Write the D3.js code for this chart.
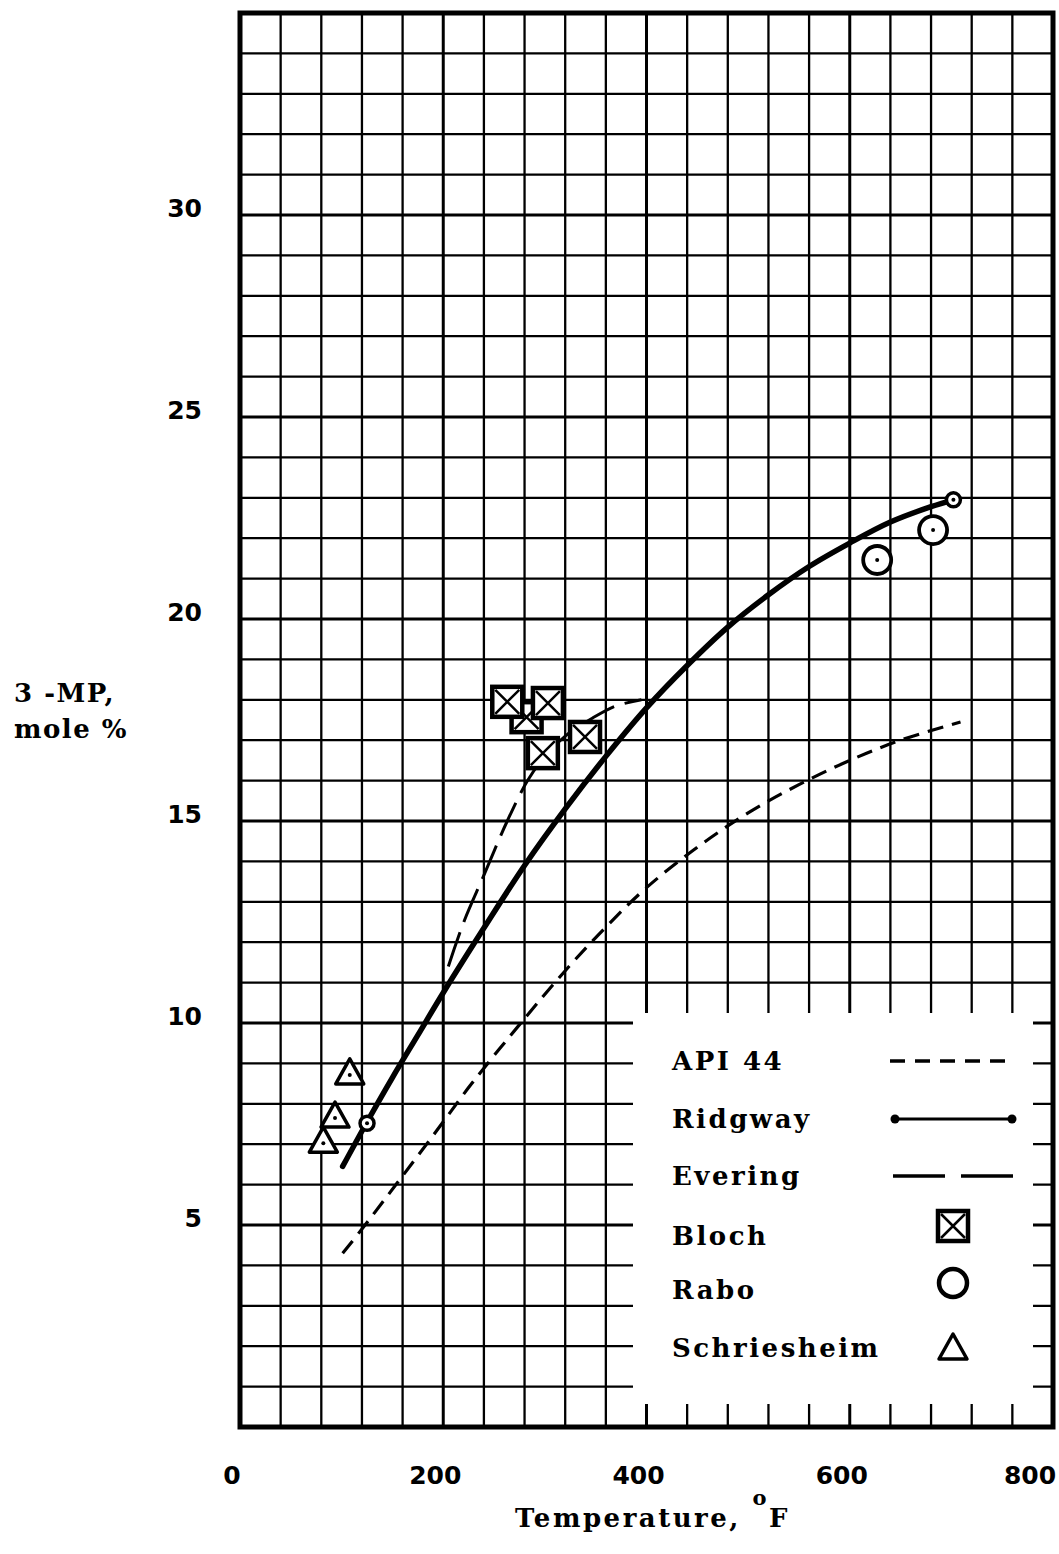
<!DOCTYPE html>
<html>
<head>
<meta charset="utf-8">
<script src="https://cdn.jsdelivr.net/npm/d3@7"></script>
<style>
  body { margin: 0; background: #fff; }
  svg { display: block; }
  .tick-label { font-family: "DejaVu Sans", sans-serif; font-weight: bold; font-size: 25px; }
  .serif { font-family: "DejaVu Serif", serif; font-weight: bold; }
</style>
</head>
<body>
<div id="chart"></div>
<script>
// axis ticks
var xTicks = [0, 200, 400, 600, 800];
var yTicks = [5, 10, 15, 20, 25, 30];

// curves: [temperature F, 3-MP mole %]
var api44 = [[101, 4.3], [120, 4.9], [155, 6.05], [194, 7.35], [228, 8.5], [278, 10.05],
             [322, 11.35], [361, 12.4], [400, 13.35], [450, 14.35], [500, 15.2],
             [550, 15.9], [600, 16.5], [650, 17.0], [709, 17.45]];
var ridgway = [[101, 6.45], [125, 7.55], [150, 8.65], [175, 9.7], [200, 10.75], [240, 12.35],
               [280, 13.9], [320, 15.3], [360, 16.6], [400, 17.8], [440, 18.85], [480, 19.8],
               [520, 20.6], [560, 21.3], [600, 21.88], [640, 22.4], [680, 22.78], [702, 22.95]];
var ridgwayEnds = [[125, 7.52], [702, 22.95]];
var evering = [[205, 11.4], [221, 12.55], [239, 13.6], [263, 15.0], [283, 16.0], [300, 16.6],
               [320, 17.1], [347, 17.55], [370, 17.85], [395, 18.0]];

// points
var bloch = [[282, 17.57], [263, 17.95], [303, 17.92], [298, 16.68], [339.5, 17.08]];
var rabo = [[627, 21.46], [682, 22.2]];
var schriesheim = [[108, 8.79], [93.5, 7.72], [82, 7.1]];

var legendLabels = ["API 44", "Ridgway", "Evering", "Bloch", "Rabo", "Schriesheim"];

var W = 1059, H = 1554;
var x = d3.scaleLinear().domain([0, 800]).range([240, 1053]);
var y = d3.scaleLinear().domain([0, 35]).range([1427, 13]);

var svg = d3.select("#chart").append("svg")
    .attr("width", W)
    .attr("height", H);

// grid
var grid = svg.append("g");
grid.selectAll("line.v")
    .data(d3.range(40, 800, 40))
  .enter().append("line")
    .attr("x1", function(d) { return x(d); })
    .attr("x2", function(d) { return x(d); })
    .attr("y1", y(35))
    .attr("y2", y(0))
    .attr("stroke", "#000")
    .attr("stroke-width", function(d) { return d % 200 == 0 ? 3 : 2.3; });
grid.selectAll("line.h")
    .data(d3.range(1, 35))
  .enter().append("line")
    .attr("y1", function(d) { return y(d); })
    .attr("y2", function(d) { return y(d); })
    .attr("x1", x(0))
    .attr("x2", x(800))
    .attr("stroke", "#000")
    .attr("stroke-width", function(d) { return d % 5 == 0 ? 3 : 2.3; });

// legend box blanks out the grid
var lb = {x0: 633, x1: 1033, y0: 1013, y1: 1404};
svg.append("rect")
    .attr("x", lb.x0).attr("y", lb.y0)
    .attr("width", lb.x1 - lb.x0).attr("height", lb.y1 - lb.y0)
    .attr("fill", "#fff");

// frame
svg.append("rect")
    .attr("x", x(0)).attr("y", y(35))
    .attr("width", x(800) - x(0)).attr("height", y(0) - y(35))
    .attr("fill", "none")
    .attr("stroke", "#000")
    .attr("stroke-width", 5);

var line = d3.line()
    .x(function(d) { return x(d[0]); })
    .y(function(d) { return y(d[1]); })
    .curve(d3.curveCatmullRom.alpha(0.5));

svg.append("path").datum(api44)
    .attr("d", line)
    .attr("fill", "none").attr("stroke", "#000")
    .attr("stroke-width", 3.2)
    .attr("stroke-dasharray", "16,9");

svg.append("path").datum(evering)
    .attr("d", line)
    .attr("fill", "none").attr("stroke", "#000")
    .attr("stroke-width", 3)
    .attr("stroke-dasharray", "36,11");

svg.append("path").datum(ridgway)
    .attr("d", line)
    .attr("fill", "none").attr("stroke", "#000")
    .attr("stroke-width", 5.5)
    .attr("stroke-linecap", "round");

// marker helpers
function square(g, cx, cy, s) {
    var h = s / 2;
    g.append("rect")
        .attr("x", cx - h).attr("y", cy - h)
        .attr("width", s).attr("height", s)
        .attr("fill", "#fff").attr("stroke", "#000").attr("stroke-width", 4.5);
    g.append("path")
        .attr("d", "M" + (cx - h + 3) + "," + (cy - h + 3) + "L" + (cx + h - 3) + "," + (cy + h - 3) +
                   "M" + (cx + h - 3) + "," + (cy - h + 3) + "L" + (cx - h + 3) + "," + (cy + h - 3))
        .attr("stroke", "#000").attr("stroke-width", 2.5);
}
function ring(g, cx, cy, r, sw, dot) {
    g.append("circle")
        .attr("cx", cx).attr("cy", cy).attr("r", r)
        .attr("fill", "#fff").attr("stroke", "#000").attr("stroke-width", sw);
    if (dot) g.append("circle").attr("cx", cx).attr("cy", cy).attr("r", 2).attr("fill", "#000");
}
function tri(g, cx, cy, dot) {
    g.append("path")
        .attr("d", "M" + cx + "," + (cy - 13) + "L" + (cx + 14) + "," + (cy + 12) + "L" + (cx - 14) + "," + (cy + 12) + "Z")
        .attr("fill", "#fff").attr("stroke", "#000").attr("stroke-width", 3.5)
        .attr("stroke-linejoin", "round");
    if (dot) g.append("circle").attr("cx", cx).attr("cy", cy + 3).attr("r", 2).attr("fill", "#000");
}

var marks = svg.append("g");
ridgwayEnds.forEach(function(d) { ring(marks, x(d[0]), y(d[1]), 7, 3.5, true); });
bloch.forEach(function(d) { square(marks, x(d[0]), y(d[1]), 30); });
rabo.forEach(function(d) { ring(marks, x(d[0]), y(d[1]), 14, 3.8, true); });
schriesheim.forEach(function(d) { tri(marks, x(d[0]), y(d[1]), true); });

// tick labels
svg.selectAll("text.ytick")
    .data(yTicks)
  .enter().append("text")
    .attr("class", "tick-label")
    .attr("x", 202)
    .attr("y", function(d) { return y(d) - 7; })
    .attr("dy", "0.35em")
    .attr("text-anchor", "end")
    .text(function(d) { return d; });

svg.selectAll("text.xtick")
    .data(xTicks)
  .enter().append("text")
    .attr("class", "tick-label")
    .attr("x", function(d) { return Math.min(x(d) - 8, W - 29); })
    .attr("y", 1475)
    .attr("dy", "0.35em")
    .attr("text-anchor", "middle")
    .text(function(d) { return d; });

// axis titles
var xt = svg.append("text")
    .attr("class", "serif")
    .attr("x", 515).attr("y", 1527)
    .style("font-size", "26px")
    .style("letter-spacing", "2.5px");
xt.append("tspan").text("Temperature,  ");
xt.append("tspan").attr("dy", -22).style("font-size", "21px").text("o");
xt.append("tspan").attr("dy", 22).text("F");

var yt = svg.append("text")
    .attr("class", "serif")
    .style("font-size", "26px")
    .style("letter-spacing", "1.5px");
yt.append("tspan").attr("x", 14).attr("y", 702).text("3 -MP,");
yt.append("tspan").attr("x", 14).attr("y", 738).text("mole  %");

// legend
var legY = [1061, 1119, 1176, 1236, 1290, 1348];
var lg = svg.append("g");
lg.selectAll("text")
    .data(legendLabels)
  .enter().append("text")
    .attr("class", "serif")
    .attr("x", 672)
    .attr("y", function(d, i) { return legY[i]; })
    .attr("dy", "0.35em")
    .style("font-size", "26px")
    .style("letter-spacing", "2.5px")
    .text(function(d) { return d; });

lg.append("line")
    .attr("x1", 890).attr("x2", 1012).attr("y1", legY[0]).attr("y2", legY[0])
    .attr("stroke", "#000").attr("stroke-width", 3.5).attr("stroke-dasharray", "15,10");
lg.append("line")
    .attr("x1", 895).attr("x2", 1012).attr("y1", legY[1]).attr("y2", legY[1])
    .attr("stroke", "#000").attr("stroke-width", 3);
lg.selectAll("circle.end")
    .data([895, 1012])
  .enter().append("circle")
    .attr("cx", function(d) { return d; }).attr("cy", legY[1]).attr("r", 4.5).attr("fill", "#000");
lg.append("line")
    .attr("x1", 893).attr("x2", 1018).attr("y1", legY[2]).attr("y2", legY[2])
    .attr("stroke", "#000").attr("stroke-width", 3.5).attr("stroke-dasharray", "52,16");
square(lg, 953, legY[3] - 10, 30);
ring(lg, 953, legY[4] - 7, 14, 4.5, false);
tri(lg, 953, legY[5] - 1, false);
</script>
</body>
</html>
